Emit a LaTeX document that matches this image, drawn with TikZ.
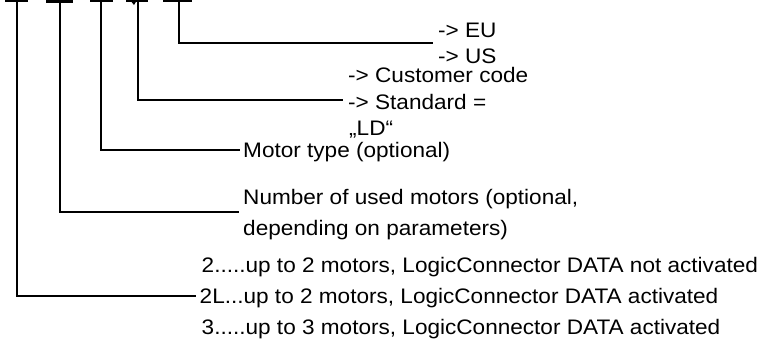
\documentclass[tikz,border=0pt]{standalone}
\usepackage{fontspec}
\setmainfont[FakeStretch=1.075]{Liberation Sans}
\begin{document}
\begin{tikzpicture}[x=1pt,y=-1pt,
  conn/.style={line width=2pt},
  bar/.style={line width=2pt},
  lbl/.style={anchor=base west, inner sep=0pt, font=\fontsize{21}{21}\selectfont}]
\useasboundingbox (0,0) rectangle (760,346);
% top ends of the connectors
\coordinate (t1) at (17,0);
\coordinate (t2) at (60,0);
\coordinate (t3) at (101,0);
\coordinate (t4) at (138,0);
\coordinate (t5) at (179,0);
% free ends
\coordinate (e1) at (196,296);
\coordinate (e2) at (239,212);
\coordinate (e3) at (240,150);
\coordinate (e4) at (343,100);
\coordinate (e5) at (433,43);
% top bars
\draw[bar] (5,1) -- (28,1);
\draw[bar, line width=3pt] (46,1.5) -- (73,1.5);
\draw[bar] (90,1) -- (113,1);
\draw[bar] (126,1) -- (148,1);
\fill (130,0) -- (137,0) -- (134,5) -- cycle;
\draw[bar] (163,1) -- (192,1);
% labels
\node[lbl] (eu) at (438,37.5) {-> EU};
\node[lbl] (us) at (438,63) {-> US};
\node[lbl] (cust) at (348,82) {-> Customer code};
\node[lbl] (std) at (348,109) {-> Standard =};
\node[lbl] (ld) at (349,135) {„LD“};
\node[lbl] (motor) at (243,157.5) {Motor type (optional)};
\node[lbl] (num1) at (243,204) {Number of used motors (optional,};
\node[lbl] (num2) at (243,235) {depending on parameters)};
\node[lbl] (opt1) at (201.5,272) {2.....up to 2 motors, LogicConnector DATA not activated};
\node[lbl] (opt2) at (199.5,303.5) {2L...up to 2 motors, LogicConnector DATA activated};
\node[lbl] (opt3) at (201.5,334) {3.....up to 3 motors, LogicConnector DATA activated};
% connectors
\draw[conn] (t1) |- (e1);
\draw[conn] (t2) |- (e2);
\draw[conn] (t3) |- (e3);
\draw[conn] (t4) |- (e4);
\draw[conn] (t5) |- (e5);
\end{tikzpicture}
\end{document}
